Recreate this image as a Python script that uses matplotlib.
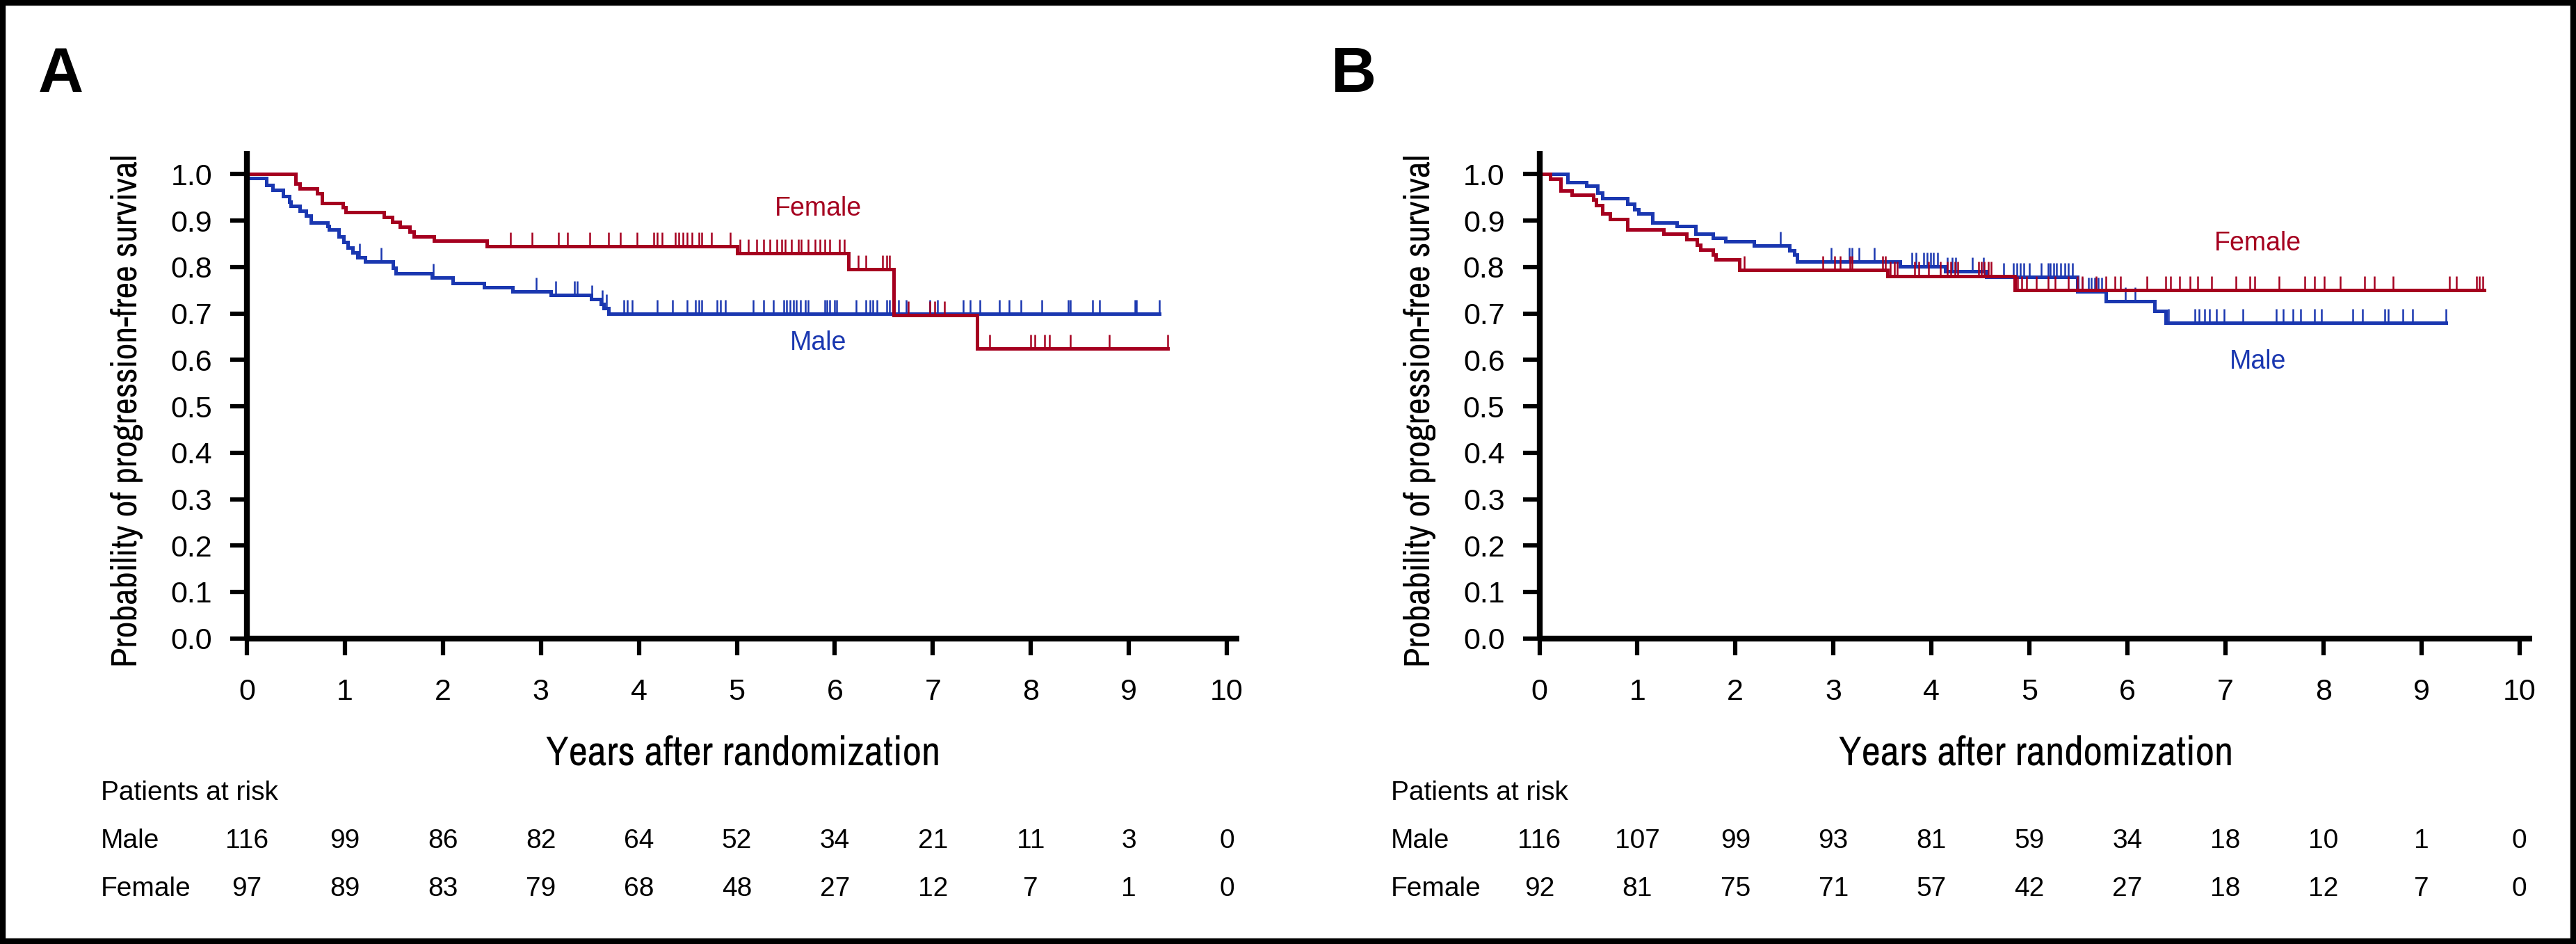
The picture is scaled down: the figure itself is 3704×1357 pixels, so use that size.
import numpy as np
import matplotlib
matplotlib.use("Agg")
import matplotlib.pyplot as plt
from matplotlib import transforms
from matplotlib import font_manager
from matplotlib.patches import Rectangle

W, H = 3704, 1357
red = '#A5001F'
blue = '#1A37B0'

# ---- panel A data ----
aFemale_t = [0, 0.50, 0.54, 0.72, 0.77, 0.98, 1.01, 1.40, 1.48, 1.56, 1.66, 1.70, 1.91, 2.45, 5.00, 6.14, 6.60, 7.45, 9.40]
aFemale_s = [1.0, 0.979, 0.969, 0.959, 0.938, 0.928, 0.918, 0.907, 0.897, 0.887, 0.876, 0.866, 0.856, 0.845, 0.830, 0.795, 0.697, 0.624, 0.624]
aFemale_cens = [2.69, 2.91, 3.18, 3.27, 3.50, 3.69, 3.81, 3.98, 4.15, 4.19, 4.24, 4.37, 4.41, 4.45, 4.49, 4.54, 4.61, 4.64,
                4.74, 4.93, 5.03, 5.12, 5.20, 5.27, 5.34, 5.41, 5.46, 5.49, 5.56, 5.63, 5.66, 5.73, 5.80, 5.85, 5.90, 5.95,
                6.05, 6.10, 6.24, 6.32, 6.49, 6.53, 6.56, 6.75, 6.97, 7.02, 7.12, 7.58, 8.00, 8.04, 8.14, 8.19, 8.40, 8.80, 9.40]

aMale_t = [0, 0.01, 0.20, 0.26, 0.37, 0.43, 0.45, 0.54, 0.60, 0.65, 0.82, 0.84, 0.94, 0.99, 1.03, 1.08, 1.13, 1.21, 1.49,
           1.52, 1.89, 2.10, 2.42, 2.71, 3.10, 3.51, 3.61, 3.64, 3.69, 9.31]
aMale_s = [1.0, 0.991, 0.976, 0.966, 0.953, 0.941, 0.931, 0.921, 0.911, 0.896, 0.888, 0.880, 0.866, 0.853, 0.841, 0.831,
           0.821, 0.811, 0.799, 0.786, 0.777, 0.766, 0.757, 0.748, 0.740, 0.731, 0.721, 0.711, 0.700, 0.700]
aMale_cens = [1.15, 1.37, 1.90, 2.95, 3.15, 3.34, 3.37, 3.52, 3.63, 3.67, 3.85, 3.88, 3.93, 4.19, 4.34, 4.49, 4.58, 4.61,
              4.64, 4.80, 4.83, 4.88, 5.17, 5.27, 5.37, 5.48, 5.51, 5.54, 5.58, 5.61, 5.65, 5.70, 5.73, 5.90, 5.92, 5.95,
              6.00, 6.02, 6.22, 6.32, 6.36, 6.39, 6.43, 6.53, 6.56, 6.65, 6.73, 6.97, 7.05, 7.31, 7.38, 7.48, 7.68, 7.78,
              7.90, 8.11, 8.38, 8.40, 8.63, 8.70, 9.06, 9.08, 9.31]

aRisk_male = [116, 99, 86, 82, 64, 52, 34, 21, 11, 3, 0]
aRisk_female = [97, 89, 83, 79, 68, 48, 27, 12, 7, 1, 0]

# ---- panel B data ----
bFemale_t = [0, 0.11, 0.22, 0.33, 0.55, 0.58, 0.64, 0.72, 0.90, 1.27, 1.50, 1.61, 1.64, 1.77, 1.80, 2.04, 3.55, 4.85, 9.64]
bFemale_s = [1.0, 0.990, 0.965, 0.955, 0.945, 0.933, 0.915, 0.903, 0.881, 0.871, 0.859, 0.848, 0.837, 0.827, 0.816, 0.794,
             0.781, 0.750, 0.750]
bFemale_cens = [2.09, 2.89, 3.01, 3.07, 3.17, 3.19, 3.50, 3.53, 3.58, 3.62, 3.65, 3.83, 3.87, 3.97, 4.09, 4.16, 4.20, 4.24,
                4.27, 4.48, 4.51, 4.54, 4.58, 4.61, 4.88, 4.92, 4.97, 5.07, 5.19, 5.26, 5.40, 5.49, 5.54, 5.68, 5.78, 5.87,
                5.93, 6.20, 6.39, 6.44, 6.53, 6.64, 6.72, 6.86, 7.11, 7.25, 7.30, 7.55, 7.81, 7.91, 8.01, 8.17, 8.42, 8.52,
                8.71, 9.29, 9.36, 9.56, 9.59, 9.63]

bMale_t = [0, 0.29, 0.48, 0.59, 0.64, 0.90, 0.97, 1.01, 1.15, 1.40, 1.59, 1.77, 1.90, 2.19, 2.55, 2.60, 2.63, 3.68, 4.14,
           4.56, 5.49, 5.78, 6.28, 6.39, 9.25]
bMale_s = [1.0, 0.983, 0.975, 0.960, 0.948, 0.936, 0.924, 0.915, 0.896, 0.888, 0.871, 0.863, 0.855, 0.846, 0.836, 0.826,
           0.811, 0.801, 0.791, 0.779, 0.748, 0.727, 0.705, 0.680, 0.680]
bMale_cens = [2.46, 2.98, 3.16, 3.19, 3.26, 3.42, 3.80, 3.84, 3.92, 3.96, 3.99, 4.02, 4.06, 4.16, 4.21, 4.25, 4.42, 4.53,
              4.74, 4.84, 4.87, 4.91, 4.94, 5.00, 5.12, 5.19, 5.21, 5.25, 5.28, 5.32, 5.36, 5.40, 5.44, 5.54, 5.60, 5.63,
              5.67, 5.70, 5.74, 5.98, 6.08, 6.42, 6.69, 6.73, 6.79, 6.84, 6.91, 6.99, 7.18, 7.52, 7.59, 7.69, 7.77, 7.91,
              7.98, 8.30, 8.40, 8.63, 8.66, 8.81, 8.91, 9.25]

bRisk_male = [116, 107, 99, 93, 81, 59, 34, 18, 10, 1, 0]
bRisk_female = [92, 81, 75, 71, 57, 42, 27, 18, 12, 7, 0]

xticks = np.arange(0, 11)
yticks = np.round(np.arange(0, 1.01, 0.1), 1)

regular = ['Liberation Sans', 'DejaVu Sans']

# condensed upright face for the axis titles, if one is installed
cond_faces = [f for f in font_manager.fontManager.ttflist
              if f.stretch in ('condensed', 'semi-condensed', 'extra-condensed')
              and f.style == 'normal' and f.weight in (400, 'normal', 'regular', 'book')]
cond_faces.sort(key=lambda f: (0 if 'Narrow' in f.name or 'Liberation' in f.name else 1, f.name, f.fname))

fig = plt.figure(figsize=(W / 100, H / 100), dpi=100)


def px(x):
    return x / W


def py(y):
    return 1 - y / H


def title_props(size):
    if cond_faces:
        fp = font_manager.FontProperties(fname=cond_faces[0].fname)
        fp.set_size(size)
        return dict(fontproperties=fp)
    return dict(family=regular, fontsize=size * 0.7)


def km(ax, t, s, cens, color):
    t = np.array(t)
    s = np.array(s)
    ax.step(t, s, where='post', color=color, lw=3.6, solid_joinstyle='miter')
    c = np.array(cens)
    yc = s[np.searchsorted(t, c, side='right') - 1]
    ax.vlines(c, yc, yc + 0.03, color=color, lw=1.8)


def panel(left, letter, fem_t, fem_s, fem_c, male_t, male_s, male_c, risk_m, risk_f,
          lab_x, fem_y, male_y, table_x):
    ax = fig.add_axes([px(left), py(917.7), 10.13 * 140.9 / W, (917.7 - 217) / H])
    km(ax, male_t, male_s, male_c, blue)
    km(ax, fem_t, fem_s, fem_c, red)
    ax.set_xlim(0, 10.13)
    ax.set_ylim(0, 1.05)
    ax.set_xticks(xticks)
    ax.set_yticks(yticks)
    ax.set_yticklabels(['%.1f' % v for v in yticks])
    for sp in ['top', 'right']:
        ax.spines[sp].set_visible(False)
    for sp in ['left', 'bottom']:
        ax.spines[sp].set_linewidth(6)
        ax.spines[sp].set_capstyle('butt')
    ax.tick_params(axis='both', length=17, width=4.5, direction='out')
    ax.tick_params(axis='y', pad=19)
    ax.tick_params(axis='x', pad=24)
    for lab in ax.get_xticklabels() + ax.get_yticklabels():
        lab.set_fontsize(31)
        lab.set_family(regular)

    ax.text(lab_x, fem_y, 'Female', color=red, fontsize=27, family=regular, ha='center', va='center')
    ax.text(lab_x, male_y, 'Male', color=blue, fontsize=27, family=regular, ha='center', va='center')

    # axis titles
    fig.text(px(left + 10.13 * 140.9 / 2), py(1100), 'Years after randomization',
             ha='center', va='baseline', **title_props(43))
    fig.text(px(left - 172), py(590), 'Probability of progression-free survival',
             rotation=90, ha='center', va='center', **title_props(37.5))

    # panel letter
    fig.text(px(left - 300), py(132), letter, fontsize=65, fontweight='bold', family=regular,
             ha='left', va='baseline')

    # patients at risk
    tr = transforms.blended_transform_factory(ax.transData, fig.transFigure)
    fig.text(px(table_x), py(1140), 'Patients at risk', fontsize=28, family=regular, ha='left', va='center')
    fig.text(px(table_x), py(1209), 'Male', fontsize=28, family=regular, ha='left', va='center')
    fig.text(px(table_x), py(1278), 'Female', fontsize=28, family=regular, ha='left', va='center')
    for xv, m, f in zip(xticks, risk_m, risk_f):
        ax.text(xv, py(1209), str(m), transform=tr, fontsize=28, family=regular, ha='center', va='center')
        ax.text(xv, py(1278), str(f), transform=tr, fontsize=28, family=regular, ha='center', va='center')
    return ax


panel(355, 'A', aFemale_t, aFemale_s, aFemale_cens, aMale_t, aMale_s, aMale_cens,
      aRisk_male, aRisk_female, 5.83, 0.926, 0.637, 145)
panel(2213.5, 'B', bFemale_t, bFemale_s, bFemale_cens, bMale_t, bMale_s, bMale_cens,
      bRisk_male, bRisk_female, 7.33, 0.851, 0.596, 2000)

# outer frame
fig.patches.append(Rectangle((px(4), 4 / H), 1 - 8 / W, 1 - 8 / H, transform=fig.transFigure,
                             fill=False, edgecolor='black', lw=6))

fig.savefig('out.png', dpi=100)
